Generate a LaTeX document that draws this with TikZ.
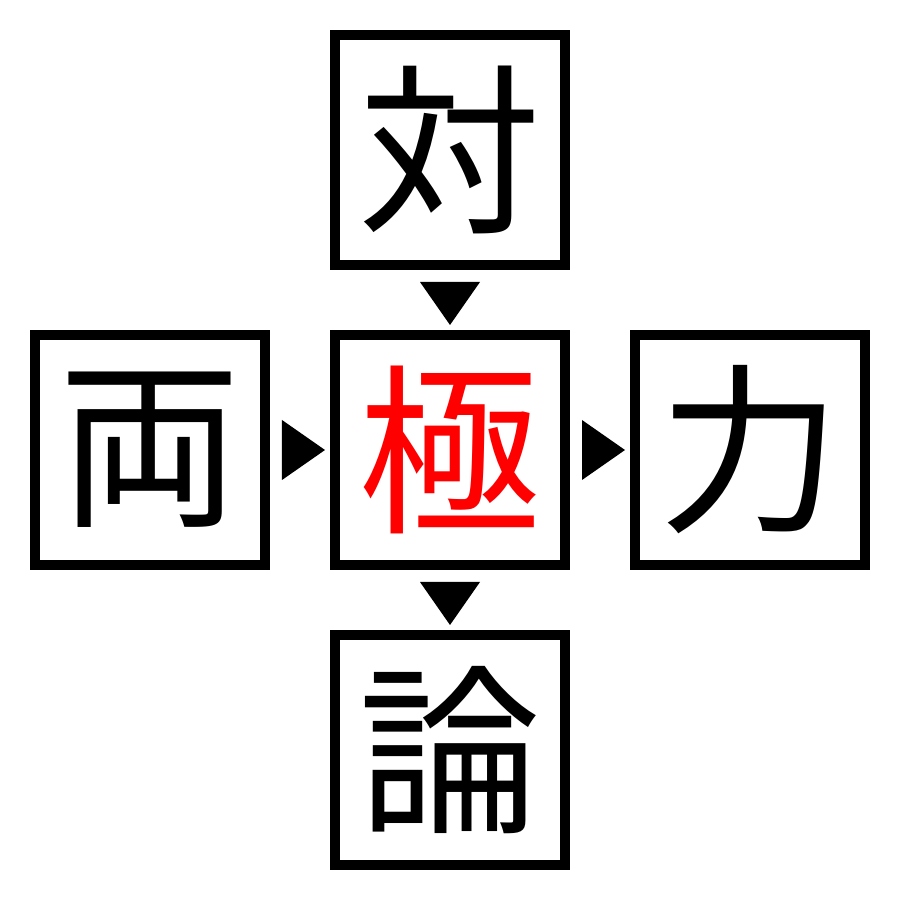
\documentclass[tikz,border=0pt]{standalone}
\usepackage{fontspec}
\newfontfamily\cjk{Noto Sans CJK JP}
\usetikzlibrary{positioning,calc}

\tikzset{
  kbox/.style = {draw, line width=0.1cm, minimum size=2.3cm, inner sep=0pt,
                 font=\cjk\fontsize{52pt}{52pt}\selectfont},
}

\begin{document}
\begin{tikzpicture}[node distance=0.6cm]

\useasboundingbox (0,0) rectangle (9,9);

% the five boxes
\node[kbox] (mid) at (4.5,4.5) {\textcolor{red}{極}};
\node[kbox, above=of mid] (top) {対};
\node[kbox, below=of mid] (bot) {論};
\node[kbox, left=of mid] (lft) {両};
\node[kbox, right=of mid] (rgt) {力};

% arrow heads between boxes
\fill ($(top.south)+(-0.3,-0.12)$) -- ($(top.south)+(0.3,-0.12)$) -- ($(mid.north)+(0,0.05)$) -- cycle;
\fill ($(mid.south)+(-0.3,-0.12)$) -- ($(mid.south)+(0.3,-0.12)$) -- ($(bot.north)+(0,0.05)$) -- cycle;
\fill ($(lft.east)+(0.12,-0.3)$) -- ($(lft.east)+(0.12,0.3)$) -- ($(mid.west)+(-0.05,0)$) -- cycle;
\fill ($(mid.east)+(0.12,-0.3)$) -- ($(mid.east)+(0.12,0.3)$) -- ($(rgt.west)+(-0.05,0)$) -- cycle;

\end{tikzpicture}
\end{document}
